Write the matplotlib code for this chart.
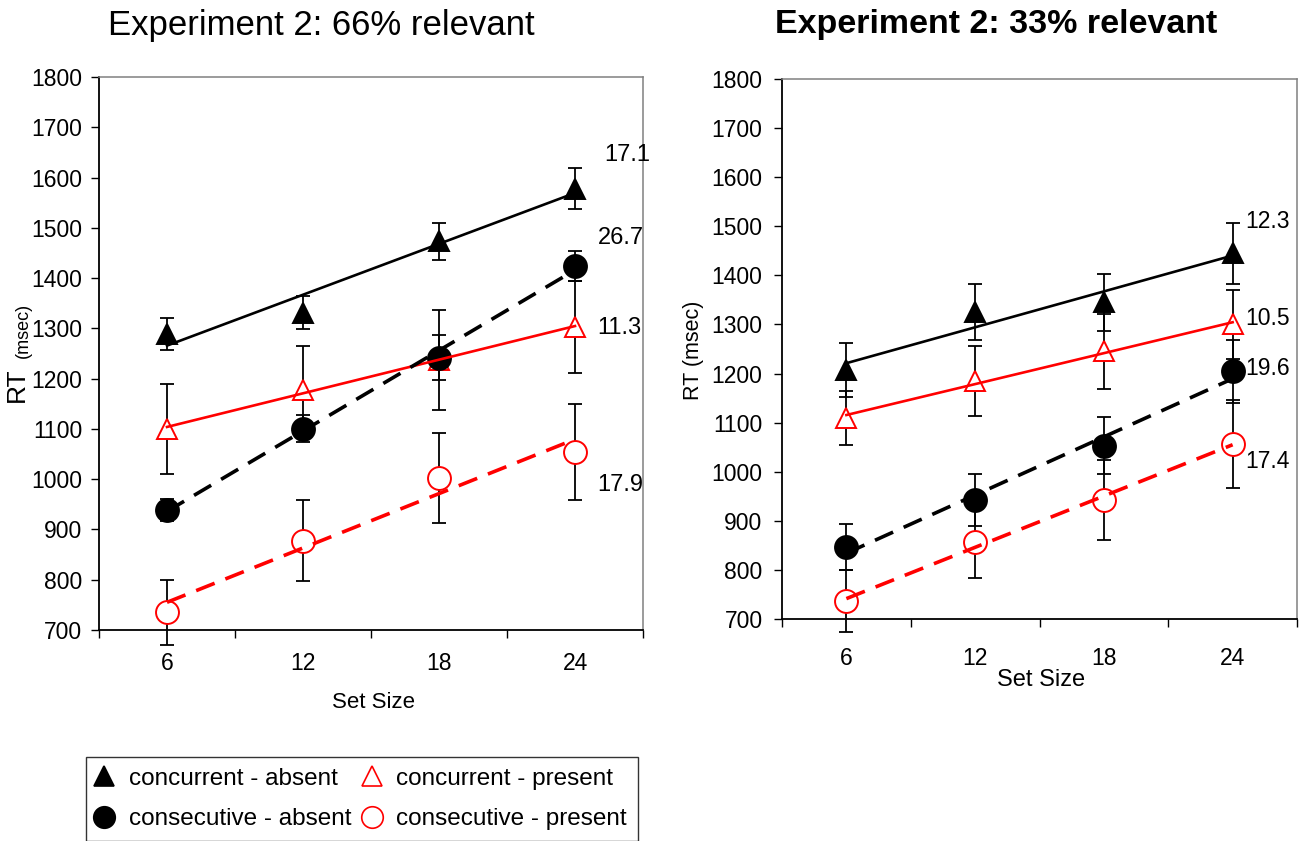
import numpy as np
import matplotlib
matplotlib.use("Agg")
import matplotlib.pyplot as plt
from matplotlib.lines import Line2D

plt.rcParams['font.family'] = ['Liberation Sans', 'DejaVu Sans']

# ---- data ----
set_size = np.array([6, 12, 18, 24])
series_names = ['concurrent - absent', 'concurrent - present',
                'consecutive - absent', 'consecutive - present']

# Experiment 2: 66% relevant
rt66 = [
    [1288, 1331, 1473, 1578],   # concurrent - absent
    [1100, 1177, 1237, 1303],   # concurrent - present
    [938, 1100, 1242, 1424],    # consecutive - absent
    [735, 878, 1002, 1054],     # consecutive - present
]
err66 = [
    [32, 33, 37, 40],
    [90, 88, 100, 92],
    [22, 27, 44, 30],
    [65, 80, 90, 95],
]
slopes66 = ['17.1', '11.3', '26.7', '17.9']

# Experiment 2: 33% relevant
rt33 = [
    [1208, 1325, 1345, 1445],
    [1110, 1185, 1245, 1300],
    [847, 942, 1053, 1205],
    [737, 857, 942, 1057],
]
err33 = [
    [55, 57, 58, 62],
    [55, 72, 76, 70],
    [47, 53, 58, 64],
    [63, 74, 81, 90],
]
slopes33 = ['12.3', '10.5', '19.6', '17.4']

# ---- styles ----
styles = [
    dict(marker='^', ms=15, mfc='black', mec='black', color='black', ls='-', lw=1.9),
    dict(marker='^', ms=15, mfc='white', mec='red', color='red', ls='-', lw=1.9),
    dict(marker='o', ms=16.5, mfc='black', mec='black', color='black', ls='--', lw=2.6),
    dict(marker='o', ms=16.5, mfc='white', mec='red', color='red', ls='--', lw=2.6),
]

W, H = 1299, 841


def fx(x):
    return x / W


def fy(y):
    return 1 - y / H


def draw_panel(ax, rts, errs, slopes, label_pos, fs, xpad, ypad):
    for rt, err, st, slope, (lx, ly) in zip(rts, errs, styles, slopes, label_pos):
        rt = np.array(rt)
        eb = ax.errorbar(set_size, rt, yerr=err, fmt='none', ecolor='black',
                         elinewidth=1.3, capsize=5, capthick=1.3, zorder=2)
        for art in list(eb[1]) + list(eb[2]):
            art.set_clip_on(False)
        ax.plot(set_size, rt, linestyle='none', marker=st['marker'], ms=st['ms'],
                mfc=st['mfc'], mec=st['mec'], mew=1.4, zorder=3, clip_on=False)
        # linear trendline like Excel
        fit = np.polyfit(set_size, rt, 1)
        xs = set_size[[0, -1]]
        line, = ax.plot(xs, np.polyval(fit, xs), color=st['color'], lw=st['lw'],
                        ls=st['ls'], zorder=4)
        if st['ls'] == '--':
            line.set_dashes((5.5, 3.2))
        ax.text(lx, ly, slope, fontsize=fs, ha='left', va='center')

    ax.set_xlim(3, 27)
    ax.set_ylim(700, 1800)
    ax.set_yticks(range(700, 1801, 100))
    ax.set_xticks(set_size)
    ax.set_xticks([3, 9, 15, 21, 27], minor=True)
    ax.tick_params(axis='x', which='major', length=0, labelsize=16.5, pad=xpad)
    ax.tick_params(axis='x', which='minor', length=6, width=1, direction='out')
    ax.tick_params(axis='y', length=6, width=1, direction='out', labelsize=16.5, pad=ypad)
    for s in ['left', 'bottom']:
        ax.spines[s].set_color('black')
        ax.spines[s].set_linewidth(1.3)
    for s in ['top', 'right']:
        ax.spines[s].set_color('#808080')
        ax.spines[s].set_linewidth(1.1)


fig = plt.figure(figsize=(W / 100, H / 100), dpi=100)

ax1 = fig.add_axes([fx(99), fy(630), fx(643) - fx(99), fy(77) - fy(630)])
ax2 = fig.add_axes([fx(782), fy(619), fx(1297) - fx(782), fy(79) - fy(619)])

draw_panel(ax1, rt66, err66, slopes66,
           [(25.3, 1644), (25.0, 1300), (25.0, 1480), (25.0, 988)], 17, 16, 6)
draw_panel(ax2, rt33, err33, slopes33,
           [(24.6, 1509), (24.6, 1313), (24.6, 1211), (24.6, 1020)], 16.5, 20, 8)

# titles
fig.text(fx(321), fy(25), 'Experiment 2: 66% relevant', fontsize=25,
         ha='center', va='center')
fig.text(fx(996), fy(25), 'Experiment 2: 33% relevant', fontsize=24.5,
         fontweight='bold', ha='center', va='center')

# axis labels
fig.text(fx(373), fy(702), 'Set Size', fontsize=16, ha='center', va='center')
fig.text(fx(1041), fy(680), 'Set Size', fontsize=17, ha='center', va='center')
fig.text(fx(17), fy(385), 'RT', fontsize=19, rotation=90, ha='center', va='center')
fig.text(fx(23), fy(330), '(msec)', fontsize=13, rotation=90, ha='center', va='center')
fig.text(fx(694), fy(350), 'RT (msec)', fontsize=15.5, rotation=90,
         ha='center', va='center')

# legend
handles = [Line2D([], [], linestyle='none', marker=st['marker'], ms=st['ms'] - 1,
                  mfc=st['mfc'], mec=st['mec'], mew=1.2) for st in styles]
order = [0, 2, 1, 3]
leg = fig.legend([handles[i] for i in order], [series_names[i] for i in order],
                 loc='upper left', bbox_to_anchor=(fx(86), fy(757)), ncol=2,
                 fontsize=17.5, frameon=True, fancybox=False, edgecolor='black',
                 handlelength=0.6, handletextpad=0.7, columnspacing=0.55,
                 labelspacing=0.75, borderpad=0.45, borderaxespad=0)
leg.get_frame().set_linewidth(1.0)

fig.savefig('out.png', dpi=100)
